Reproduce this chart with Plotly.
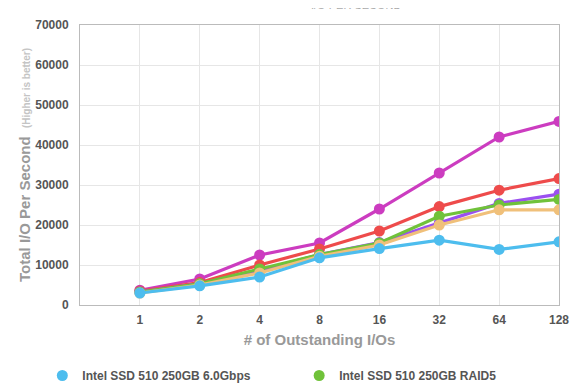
import plotly.graph_objects as go

categories = ["1", "2", "4", "8", "16", "32", "64", "128"]

series_names = [
    "Intel SSD 510 250GB RAID0 x4",
    "Intel SSD 510 250GB RAID0",
    "Intel SSD 510 250GB RAID10",
    "Intel SSD 510 250GB RAID5",
    "Intel SSD 510 250GB RAID1",
    "Intel SSD 510 250GB 6.0Gbps",
]
magenta_vals = [3700, 6500, 12500, 15500, 24000, 33000, 42000, 45900]
red_vals = [3500, 5600, 10000, 14000, 18500, 24600, 28700, 31600]
purple_vals = [3300, 5300, 8600, 12600, 15600, 20500, 25400, 27700]
green_vals = [3200, 5300, 9000, 12600, 15500, 22200, 25000, 26400]
tan_vals = [3000, 5000, 8000, 12200, 15000, 20000, 23800, 23800]
blue_vals = [3000, 4800, 7000, 11800, 14100, 16200, 13900, 15800]

colors = ["#cc3cc0", "#ee4b4b", "#9b50f0", "#70c23a", "#f0c07a", "#4dbdee"]
values = [magenta_vals, red_vals, purple_vals, green_vals, tan_vals, blue_vals]
legend_series = [(5, "legend"), (3, "legend2")]  # blue, green are the visible legend rows

FONT = "Liberation Sans, Arial, sans-serif"

fig = go.Figure()
for name, vals, col in zip(series_names, values, colors):
    fig.add_trace(go.Scatter(
        x=categories, y=vals, name=name, mode="lines+markers",
        line=dict(color=col, width=3.2),
        marker=dict(color=col, size=11),
        showlegend=False,
    ))
# legend entries (marker-only symbols)
for i, lg in legend_series:
    fig.add_trace(go.Scatter(
        x=[None], y=[None], name=series_names[i], mode="markers",
        marker=dict(color=colors[i], size=11), showlegend=True, legend=lg,
    ))

leg_font = dict(size=12, color="#555", family=FONT, weight="bold")

# page body has an 8px margin; figure is sized/offset to compensate
fig.update_layout(
    width=572, height=382,
    margin=dict(l=72, r=21, t=17, b=85),
    paper_bgcolor="white", plot_bgcolor="white",
    font=dict(family=FONT, color="#555"),
    legend=dict(orientation="h", xref="container", yref="container",
                x=0.06, xanchor="left", y=0.0, yanchor="bottom",
                font=leg_font, itemwidth=30),
    legend2=dict(orientation="h", xref="container", yref="container",
                 x=0.509, xanchor="left", y=0.0, yanchor="bottom",
                 font=leg_font, itemwidth=30),
    xaxis=dict(
        type="category", categoryorder="array", categoryarray=categories,
        range=[-1, 7], automargin=False,
        showgrid=True, gridcolor="#e6e6e6", gridwidth=1,
        showline=True, linecolor="#bbbbbb", linewidth=1, mirror=True,
        ticks="", ticklabelstandoff=4,
        tickfont=dict(size=12, color="#555", weight="bold"),
        title=dict(text="# of Outstanding I/Os", standoff=8,
                   font=dict(size=15, color="#999", weight="bold")),
    ),
    yaxis=dict(
        range=[0, 70000], dtick=10000, automargin=False,
        showgrid=True, gridcolor="#e6e6e6", gridwidth=1,
        showline=True, linecolor="#bbbbbb", linewidth=1, mirror=True,
        zeroline=False, ticks="", ticklabelstandoff=8,
        tickfont=dict(size=12, color="#555", weight="bold"),
        tickformat="d",
        title=dict(text="Total I/O Per Second  <span style='font-size:10px;color:#c4c4c4'>(Higher is better)</span>",
                   standoff=0, font=dict(size=15, color="#999", weight="bold")),
    ),
)

fig.add_annotation(text="<b>WORKSTATION 4K</b>", xref="paper", yref="paper",
                   x=0.0, y=1.035, xanchor="left", yanchor="bottom", showarrow=False,
                   font=dict(size=24, color="#111", family=FONT))
fig.add_annotation(text="I/O PER SECOND", xref="paper", yref="paper",
                   x=0.478, y=1.043, xanchor="left", yanchor="bottom", showarrow=False,
                   font=dict(size=11, color="#aaa", family=FONT))
fig.add_annotation(text="<b>TheSSDReview.com</b>", xref="paper", yref="paper",
                   x=1.03, y=1.042, xanchor="right", yanchor="bottom", showarrow=False,
                   font=dict(size=17, color="#d0d0d0", family=FONT))

fig.write_html("out.html")
